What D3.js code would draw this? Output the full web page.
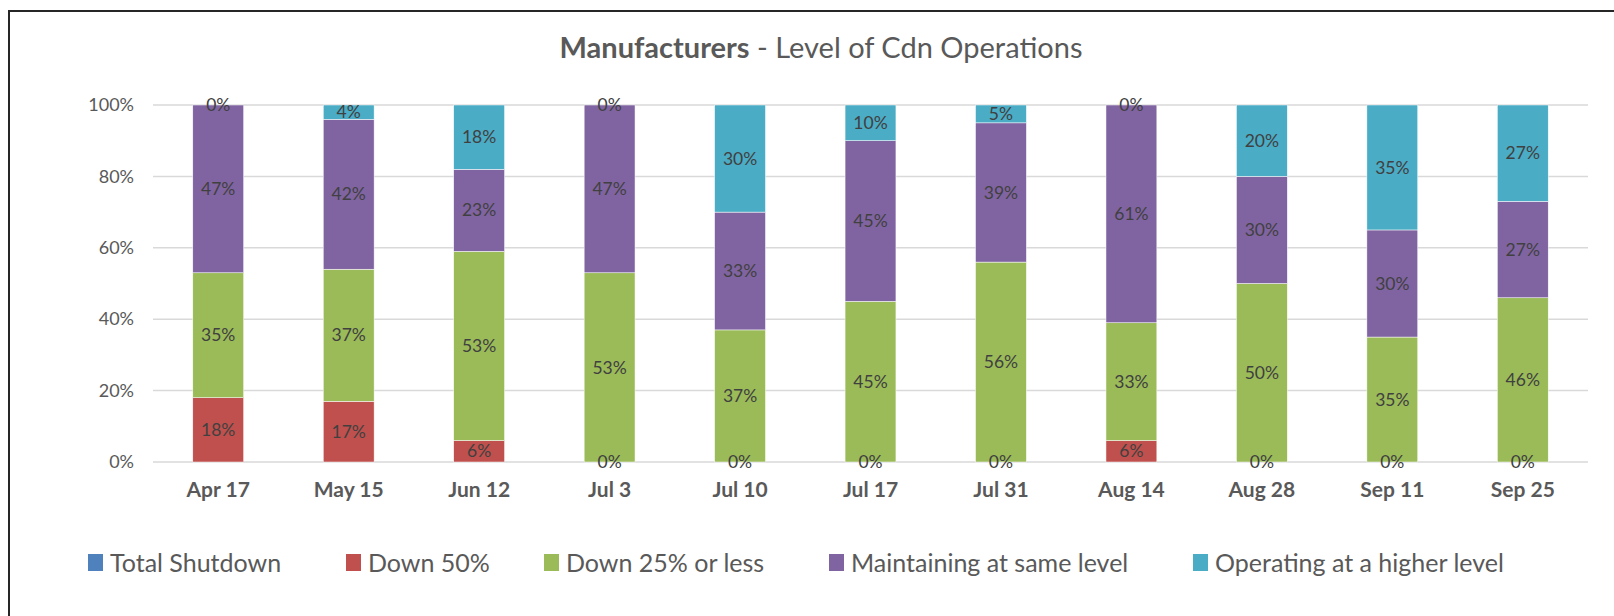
<!DOCTYPE html>
<html>
<head>
<meta charset="utf-8">
<script src="https://cdn.jsdelivr.net/npm/d3@7"></script>
<style>
  body { margin: 0; background: #fff; }
  svg { display: block; font-family: Lato, 'Open Sans', sans-serif; }
</style>
</head>
<body>
<div id="chart"></div>
<script>
var dates = ['Apr 17', 'May 15', 'Jun 12', 'Jul 3', 'Jul 10', 'Jul 17', 'Jul 31', 'Aug 14', 'Aug 28', 'Sep 11', 'Sep 25'];
var seriesNames = ['Total Shutdown', 'Down 50%', 'Down 25% or less', 'Maintaining at same level', 'Operating at a higher level'];
var totalShutdown = [0, 0, 0, 0, 0, 0, 0, 0, 0, 0, 0];
var down50 = [18, 17, 6, 0, 0, 0, 0, 6, 0, 0, 0];
var down25 = [35, 37, 53, 53, 37, 45, 56, 33, 50, 35, 46];
var maintaining = [47, 42, 23, 47, 33, 45, 39, 61, 30, 30, 27];
var higher = [0, 4, 18, 0, 30, 10, 5, 0, 20, 35, 27];
var yTicks = [0, 20, 40, 60, 80, 100];
var colors = ['#4F81BD', '#C0504D', '#9BBB59', '#8064A2', '#4BACC6'];
// total shutdown has no labels in the original
var showLabels = [false, true, true, true, true];

var width = 1614, height = 616;
var margin = {top: 105, left: 153, right: 26, bottom: 154};

var svg = d3.select('#chart').append('svg')
  .attr('width', width)
  .attr('height', height);

// outer frame
svg.append('rect')
  .attr('x', 9).attr('y', 11)
  .attr('width', 1700).attr('height', 700)
  .attr('fill', 'none')
  .attr('stroke', '#262626')
  .attr('stroke-width', 2);

// title
var title = svg.append('text')
  .attr('x', 821).attr('y', 58)
  .attr('text-anchor', 'middle')
  .attr('fill', '#595959')
  .style('font-size', '29px');
title.append('tspan').attr('font-weight', 'bold').text('Manufacturers');
title.append('tspan').text(' - Level of Cdn Operations');

var x = d3.scaleBand()
  .domain(dates)
  .range([margin.left, width - margin.right])
  .paddingInner(0.61)
  .paddingOuter(0.305);

var y = d3.scaleLinear()
  .domain([0, 100])
  .range([height - margin.bottom, margin.top]);

// gridlines
svg.append('g')
  .selectAll('line')
  .data(yTicks)
  .join('line')
  .attr('x1', margin.left).attr('x2', width - margin.right)
  .attr('y1', function (d) { return y(d); })
  .attr('y2', function (d) { return y(d); })
  .attr('stroke', '#D9D9D9')
  .attr('stroke-width', 1.5);

// y axis labels
var yAxis = svg.append('g')
  .attr('transform', 'translate(' + margin.left + ',0)')
  .call(d3.axisLeft(y).tickValues(yTicks).tickSize(0).tickPadding(19)
    .tickFormat(function (d) { return d + '%'; }));
yAxis.select('.domain').remove();
yAxis.selectAll('text')
  .attr('fill', '#595959')
  .style('font-size', '18px')
  .style('font-family', 'Lato, sans-serif');

// x axis labels
var xAxis = svg.append('g')
  .attr('transform', 'translate(0,' + y(0) + ')')
  .call(d3.axisBottom(x).tickSize(0).tickPadding(20));
xAxis.select('.domain').remove();
xAxis.selectAll('text')
  .attr('fill', '#595959')
  .attr('font-weight', 'bold')
  .style('font-size', '21px')
  .style('font-family', 'Lato, sans-serif');

// stacked data
var rows = dates.map(function (d, i) {
  return {
    date: d,
    s0: totalShutdown[i],
    s1: down50[i],
    s2: down25[i],
    s3: maintaining[i],
    s4: higher[i]
  };
});
var stack = d3.stack().keys(['s0', 's1', 's2', 's3', 's4']);
var layers = stack(rows);

var layerG = svg.append('g')
  .selectAll('g')
  .data(layers)
  .join('g')
  .attr('fill', function (d, i) { return colors[i]; });

layerG.selectAll('rect')
  .data(function (d) { return d; })
  .join('rect')
  .attr('x', function (d) { return x(d.data.date); })
  .attr('width', x.bandwidth())
  .attr('y', function (d) { return y(d[1]); })
  .attr('height', function (d) { return y(d[0]) - y(d[1]); })
  .attr('stroke', '#fff')
  .attr('stroke-width', 0.5);

// data labels
layers.forEach(function (layer, li) {
  if (!showLabels[li]) return;
  svg.append('g')
    .selectAll('text')
    .data(layer)
    .join('text')
    .attr('x', function (d) { return x(d.data.date) + x.bandwidth() / 2; })
    .attr('y', function (d) { return y((d[0] + d[1]) / 2); })
    .attr('dy', '0.35em')
    .attr('text-anchor', 'middle')
    .attr('fill', '#404040')
    .style('font-size', '17.5px')
    .text(function (d) { return (d[1] - d[0]) + '%'; });
});

// legend
var legendX = [88, 346, 544, 829, 1193];
var legend = svg.append('g')
  .selectAll('g')
  .data(seriesNames)
  .join('g')
  .attr('transform', function (d, i) { return 'translate(' + legendX[i] + ',554)'; });
legend.append('rect')
  .attr('width', 15).attr('height', 17)
  .attr('fill', function (d, i) { return colors[i]; });
legend.append('text')
  .attr('x', 22).attr('y', 8.5)
  .attr('dy', '0.36em')
  .attr('fill', '#595959')
  .style('font-size', '25px')
  .text(function (d) { return d; });
</script>
</body>
</html>
